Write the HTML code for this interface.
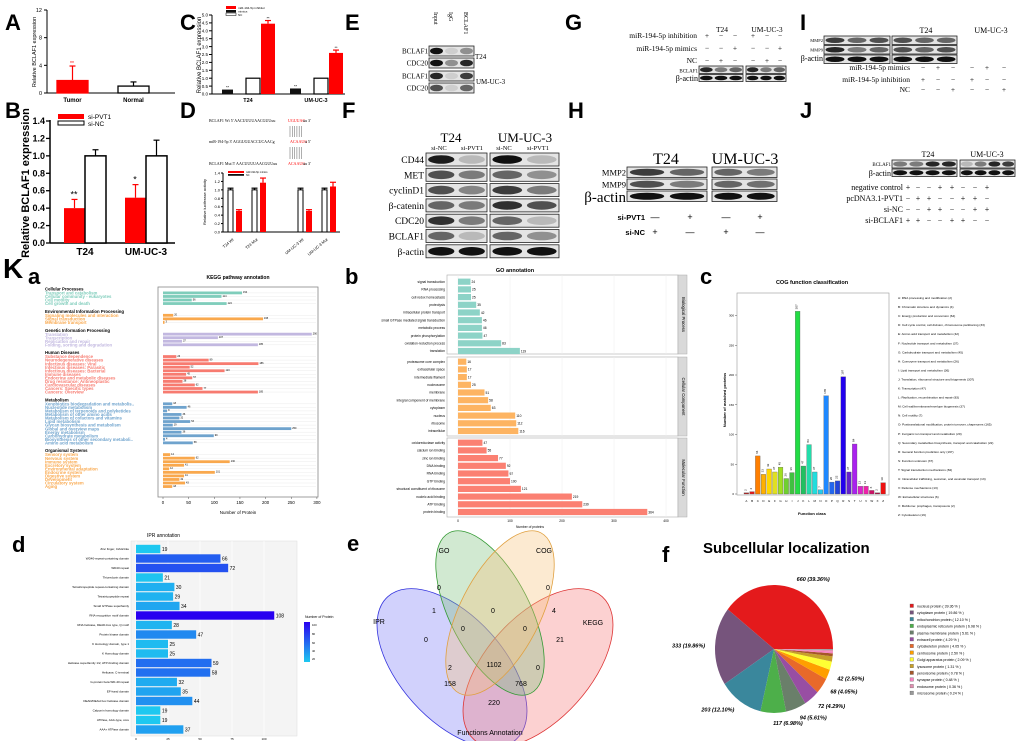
<!DOCTYPE html>
<html><head><meta charset="utf-8"><title>Figure</title>
<style>
html,body{margin:0;padding:0;background:#fff;width:1020px;height:741px;overflow:hidden}
svg{display:block}
text{font-family:"Liberation Sans",Arial,sans-serif}
.sf{font-family:"Liberation Serif","Times New Roman",serif}
</style></head>
<body>
<svg id="fig" width="1020" height="741" viewBox="0 0 1020 741" xmlns="http://www.w3.org/2000/svg"></svg>
<script>
// ---------- DATA ----------
const catsA=['Tumor','Normal'];
const valsA=[1.8,1.0];
const errA=[3.9,1.6];
const ticksA=[0,4,8,12];

const catsB=['T24','UM-UC-3'];
const pvtB=[0.40,0.52];
const pvtErrB=[0.50,0.67];
const ncB=[1.0,1.0];
const ncErrB=[1.07,1.18];
const ticksB=[0,0.2,0.4,0.6,0.8,1.0,1.2,1.4];

const catsC=['T24','UM-UC-3'];
const inhC=[0.28,0.35];
const ncC=[1.0,1.0];
const mimC=[4.45,2.6];
const mimErrC=[4.65,2.78];
const ticksC=[0,0.5,1.0,1.5,2.0,2.5,3.0,3.5,4.0,4.5,5.0];

const catsD=['T24 Wt','T24 Mut','UM-UC-3 Wt','UM-UC-3 Mut'];
const ncD=[1.0,1.0,1.0,1.0];
const mimD=[0.5,1.17,0.5,1.08];
const mimErrD=[0.53,1.28,0.53,1.18];
const ticksD=[0,0.2,0.4,0.6,0.8,1.0,1.2,1.4];

const keggGroups=['Cellular Processes','Environmental Information Processing','Genetic Information Processing','Human Diseases','Metabolism','Organismal Systems'];
const keggNames=[
['Transport and catabolism','Cellular community - eukaryotes','Cell motility','Cell growth and death'],
['Signaling molecules and interaction','Signal transduction','Membrane transport'],
['Translation','Transcription','Replication and repair','Folding, sorting and degradation'],
['Substance dependence','Neurodegenerative diseases','Infectious diseases: Viral','Infectious diseases: Parasitic','Infectious diseases: Bacterial','Immune diseases','Endocrine and metabolic diseases','Drug resistance: Antineoplastic','Cardiovascular diseases','Cancers: Specific types','Cancers: Overview'],
['Xenobiotics biodegradation and metabolis..','Nucleotide metabolism','Metabolism of terpenoids and polyketides','Metabolism of other amino acids','Metabolism of cofactors and vitamins','Lipid metabolism','Glycan biosynthesis and metabolism','Global and overview maps','Energy metabolism','Carbohydrate metabolism','Biosynthesis of other secondary metaboli..','Amino acid metabolism'],
['Sensory system','Nervous system','Immune system','Excretory system','Environmental adaptation','Endocrine system','Digestive system','Development','Circulatory system','Aging']];
const keggVals=[
[154,114,56,124],
[20,195,3],
[290,107,37,185],
[26,89,186,52,120,45,57,38,62,77,185],
[18,46,8,36,32,53,19,250,36,99,4,58],
[14,62,130,41,12,101,41,32,43,18]];
const keggTicks=[0,50,100,150,200,250,300];

const goPanels=['Biological Process','Cellular Component','Molecular Function'];
const goNames=[
['signal transduction','RNA processing','cell redox homeostasis','proteolysis','intracellular protein transport','small GTPase mediated signal transduction','metabolic process','protein phosphorylation','oxidation-reduction process','translation'],
['proteasome core complex','extracellular space','intermediate filament','nucleosome','membrane','integral component of membrane','cytoplasm','nucleus','ribosome','intracellular'],
['oxidoreductase activity','calcium ion binding','zinc ion binding','DNA binding','RNA binding','GTP binding','structural constituent of ribosome','nucleic acid binding','ATP binding','protein binding']];
const goVals=[
[24,25,25,35,42,46,46,47,83,119],
[16,17,17,25,51,58,63,110,112,116],
[47,55,77,92,97,100,121,219,239,364]];
const goTicks=[0,100,200,300,400];

const cogCats=['A','B','C','D','E','F','G','H','I','J','K','L','M','N','O','P','Q','R','S','T','U','V','W','X','Z'];
const cogVals=[2,4,64,33,42,37,45,26,36,307,47,83,37,7,165,20,22,197,37,84,13,13,6,2,19];
const cogDesc=['RNA processing and modification','Chromatin structure and dynamics','Energy production and conversion','Cell cycle control, cell division, chromosome partitioning','Amino acid transport and metabolism','Nucleotide transport and metabolism','Carbohydrate transport and metabolism','Coenzyme transport and metabolism','Lipid transport and metabolism','Translation, ribosomal structure and biogenesis','Transcription','Replication, recombination and repair','Cell wall/membrane/envelope biogenesis','Cell motility','Posttranslational modification, protein turnover, chaperones','Inorganic ion transport and metabolism','Secondary metabolites biosynthesis, transport and catabolism','General function prediction only','Function unknown','Signal transduction mechanisms','Intracellular trafficking, secretion, and vesicular transport','Defense mechanisms','Extracellular structures','Mobilome: prophages, transposons','Cytoskeleton'];
const cogTicks=[0,50,100,150,200,250,300];

const iprNames=['Zinc finger, C2H2-like','WD40-repeat-containing domain','WD40 repeat','Thioredoxin domain','Tetratricopeptide repeat-containing domain','Tetratricopeptide repeat','Small GTPase superfamily','RNA recognition motif domain','RNA helicase, DEAD-box type, Q motif','Protein kinase domain','K Homology domain, type 1','K Homology domain','Helicase superfamily 1/2, ATP-binding domain','Helicase, C-terminal','G-protein beta WD-40 repeat','EF-hand domain','DEAD/DEAH box helicase domain','Calponin homology domain','ATPase, AAA-type, core','AAA+ ATPase domain'];
const iprVals=[19,66,72,21,30,29,34,108,28,47,25,25,59,58,32,35,44,19,19,37];
const iprTicks=[0,25,50,75,100];

const vennSets=['GO','COG','IPR','KEGG'];
const vennCounts=[0,0,0,1,4,0,0,0,21,2,1102,0,158,768,220];

const pieNames=['nucleus protein','cytoplasm protein','mitochondrion protein','endoplasmic reticulum protein','plasma membrane protein','extracell protein','cytoskeleton protein','centrosome protein','Golgi apparatus protein','lysosome protein','peroxisome protein','synapse protein','endosome protein','microsome protein'];
const pieVals=[660,333,203,117,94,72,68,42,35,22,13,8,6,4];

// ---------- HELPERS ----------
const NS='http://www.w3.org/2000/svg';
const svg=document.getElementById('fig');
function el(tag,name,attrs,parent){
  const e=document.createElementNS(NS,tag);
  for(const k in attrs) e.setAttribute(k,attrs[k]);
  
  
  (parent||svg).appendChild(e);
  return e;
}
function tx(x,y,s,size,name,o){
  o=o||{};
  const a={x:x,y:y,'font-size':size,fill:o.fill||'#000'};
  if(o.anchor)a['text-anchor']=o.anchor;
  if(o.bold)a['font-weight']='bold';
  if(o.italic)a['font-style']='italic';
  if(o.cls)a['class']=o.cls;
  if(o.rot!==undefined)a.transform='rotate('+o.rot+' '+x+' '+y+')';
  const t=el('text',name,a);
  t.textContent=s;
  return t;
}
function ln(x1,y1,x2,y2,name,c,w){return el('line',name,{x1:x1,y1:y1,x2:x2,y2:y2,stroke:c||'#000','stroke-width':w||1});}
function rc(x,y,w,h,name,fill,stroke,sw){return el('rect',name,{x:x,y:y,width:w,height:h,fill:fill,stroke:stroke||'none','stroke-width':sw||1});}
function letter(x,y,s,size){tx(x,y,s,size,'panel-label-'+s.toLowerCase(),{bold:true});}
function errBar(x,y1,y2,name,c){ln(x,y1,x,y2,name,c||'#000',1.2);ln(x-3,y2,x+3,y2,name+'-cap',c||'#000',1.2);}
function blot(x,y,w,h,lanes,name){
  rc(x,y,w,h,name+'-bg','#e4e4e4','#222',0.8);
  const g=el('g',name,{});
  const lw=w/lanes.length;
  lanes.forEach((v,i)=>{
    el('ellipse',name+'-band',{cx:x+lw*(i+0.5),cy:y+h/2,rx:lw*0.43,ry:h*0.33,fill:'#111','fill-opacity':v},g);
  });
}

// ---------- PANEL LETTERS ----------
letter(5,30,'A',22);letter(5,118,'B',22);letter(180,30,'C',22);letter(180,118,'D',22);
letter(345,30,'E',22);letter(342,118,'F',22);letter(565,30,'G',22);letter(568,118,'H',22);
letter(800,30,'I',22);letter(800,118,'J',22);
tx(3,278,'K',28,'panel-label-k',{bold:true});tx(28,284,'a',22,'panel-label-ka',{bold:true});
letter(345,284,'b',22);letter(700,284,'c',22);letter(12,552,'d',22);letter(347,551,'e',22);letter(662,562,'f',22);

// ---------- PANEL A ----------
(function(){
  const y=v=>93-v/12*83;
  ln(47,10,47,93,'a-y-axis');ln(47,93,175,93,'a-x-axis');
  ticksA.forEach(t=>{ln(44,y(t),47,y(t),'a-tick');tx(42,y(t)+2,String(t),5.5,'a-tick-label',{anchor:'end'});});
  tx(36,52,'Relative BCLAF1 expression',5.5,'a-y-axis-title',{anchor:'middle',rot:-90});
  catsA.forEach((c,i)=>{
    const x=57+i*61;
    errBar(x+15.5,y(valsA[i]),y(errA[i]),'a-error-bar',i==0?'#f00':'#000');
    rc(x,y(valsA[i]),31,93-y(valsA[i]),'a-bar-'+c.toLowerCase(),i==0?'#f00':'#fff',i==0?'#f00':'#000',1.3);
    tx(x+15.5,102,c,6,'a-x-label',{anchor:'middle',bold:true});
  });
  tx(72,y(errA[0])-1,'**',5,'a-sig',{anchor:'middle',fill:'#f00'});
})();

// ---------- PANEL B ----------
(function(){
  const y=v=>243-v/1.4*122;
  ln(50,120,50,243,'b-y-axis',0,1.5);ln(50,243,175,243,'b-x-axis',0,1.5);
  ticksB.forEach(t=>{ln(46,y(t),50,y(t),'b-tick',0,1.3);tx(45,y(t)+3,t.toFixed(1),9,'b-tick-label',{anchor:'end',bold:true});});
  tx(29,183,'Relative BCLAF1 expression',11,'b-y-axis-title',{anchor:'middle',rot:-90,bold:true});
  catsB.forEach((c,i)=>{
    const x=64+i*61;
    errBar(x+10.5,y(pvtB[i]),y(pvtErrB[i]),'b-error-bar','#f00');
    rc(x,y(pvtB[i]),21,243-y(pvtB[i]),'b-bar-si-pvt1',"#f00");
    errBar(x+31.5,y(ncB[i]),y(ncErrB[i]),'b-error-bar');
    rc(x+21,y(ncB[i]),21,243-y(ncB[i]),'b-bar-si-nc','#fff','#000',1.5);
    tx(x+21,255,c,10,'b-x-label',{anchor:'middle',bold:true});
  });
  tx(74,y(pvtErrB[0])-2,'**',9,'b-sig',{anchor:'middle'});tx(135,y(pvtErrB[1])-2,'*',9,'b-sig',{anchor:'middle'});
  rc(58,114,26,5,'b-legend-swatch-pvt1','#f00');rc(58,121,26,4,'b-legend-swatch-nc','#fff','#000');
  tx(88,119,'si-PVT1',6.5,'b-legend-pvt1');tx(88,126,'si-NC',6.5,'b-legend-nc');
})();

// ---------- PANEL C ----------
(function(){
  const y=v=>94-v/5*79;
  ln(212,15,212,94,'c-y-axis');ln(212,94,345,94,'c-x-axis');
  ticksC.forEach(t=>{ln(209,y(t),212,y(t),'c-tick');tx(208,y(t)+1.7,t.toFixed(1),4.5,'c-tick-label',{anchor:'end'});});
  tx(201,55,'Relative BCLAF1 expression',6,'c-y-axis-title',{anchor:'middle',rot:-90});
  catsC.forEach((c,i)=>{
    const x=222+i*68;
    rc(x,y(inhC[i]),11,94-y(inhC[i]),'c-bar-inhibitor','#111');
    rc(x+24,y(ncC[i]),14,94-y(ncC[i]),'c-bar-nc','#fff','#000',1.2);
    errBar(x+46,y(mimC[i]),y(mimErrC[i]),'c-error-bar','#f00');
    rc(x+39,y(mimC[i]),14,94-y(mimC[i]),'c-bar-mimics','#f00');
    tx(x+5.5,y(inhC[i])-1,'**',4,'c-sig',{anchor:'middle'});
    tx(x+46,y(mimErrC[i])-1,'**',4,'c-sig',{anchor:'middle'});
    tx(x+26,102,c,5.5,'c-x-label',{anchor:'middle',bold:true});
  });
  rc(226,6,10,3,'c-legend-swatch','#f00');rc(226,10,10,2.5,'c-legend-swatch','#111');rc(226,13,10,2.5,'c-legend-swatch','#fff','#000',0.5);
  tx(238,9,'miR-194-5p inhibitor',3,'c-legend-text');tx(238,12.5,'mimics',3,'c-legend-text');tx(238,16,'NC',3,'c-legend-text');
})();

// ---------- PANEL D ----------
(function(){
  tx(209,122,"BCLAF1 Wt      5' AACUUUUAACGUUuu",4,'d-seq-wt',{cls:'sf'});tx(288,122,"UGUUAC",4,'d-seq-wt-site',{cls:'sf',fill:'#f00'});tx(303,122,"uu 3'",4,'d-seq-wt-end',{cls:'sf'});
  tx(209,143,"miR-194-5p       3' AGGUGUACCUCAACg",4,'d-seq-mir',{cls:'sf'});tx(290,143,"ACAAUG",4,'d-seq-mir-site',{cls:'sf',fill:'#f00'});tx(305,143,"u    5'",4,'d-seq-mir-end',{cls:'sf'});
  tx(209,165,"BCLAF1 Mut      5' AACUUUUAACGUUuu",4,'d-seq-mut',{cls:'sf'});tx(288,165,"ACAAUG",4,'d-seq-mut-site',{cls:'sf',fill:'#f00'});tx(303,165,"uu 3'",4,'d-seq-mut-end',{cls:'sf'});
  for(let k=0;k<6;k++){ln(290+k*2.3,126,290+k*2.3,137,'d-pair-line','#777',0.6);ln(290+k*2.3,147,290+k*2.3,159,'d-pair-line','#777',0.6);}
  const y=v=>232-v/1.4*59;
  ln(223,173,223,232,'d-y-axis');ln(223,232,340,232,'d-x-axis');
  ticksD.forEach(t=>{ln(221,y(t),223,y(t),'d-tick');tx(220,y(t)+1.5,t.toFixed(1),4,'d-tick-label',{anchor:'end'});});
  tx(206,202,'Relative luciferase activity',4,'d-y-axis-title',{anchor:'middle',rot:-90});
  catsD.forEach((c,i)=>{
    const x=228+i*24+(i>=2?22:0);
    errBar(x+2.5,y(ncD[i]),y(ncD[i]+0.04),'d-error-bar');
    rc(x,y(ncD[i]),5,232-y(ncD[i]),'d-bar-nc','#fff','#000',1);
    errBar(x+11,y(mimD[i]),y(mimErrD[i]),'d-error-bar','#f00');
    rc(x+8,y(mimD[i]),6,232-y(mimD[i]),'d-bar-mimics','#f00');
    tx(x+6,240,c,4,'d-x-label',{anchor:'end',rot:-40});
  });
  rc(228,171,16,2,'d-legend-swatch','#f00');rc(228,174,16,1.8,'d-legend-swatch','#111');
  tx(246,173,'miR-194-5p mimics',2.5,'d-legend-text');tx(246,176,'NC',2.5,'d-legend-text');
})();

// ---------- PANEL E ----------
(function(){
  ['Input','IgG','BCLAF1'].forEach((s,i)=>tx(434+i*15,12,s,6,'e-column-label',{cls:'sf',rot:90}));
  const rows=['BCLAF1','CDC20','BCLAF1','CDC20'];const ys=[46,58,71,83];
  const ints=[[1,0.1,0.4],[1,0.4,0.9],[0.9,0.1,0.8],[0.7,0.1,0.6]];
  rows.forEach((r,i)=>{tx(428,ys[i]+7.5,r,7,'e-row-label',{cls:'sf',anchor:'end'});blot(429,ys[i],45,10,ints[i],'e-blot');});
  tx(475,59,'T24',7,'e-cell-t24',{cls:'sf'});tx(476,84,'UM-UC-3',7,'e-cell-umuc3',{cls:'sf'});
})();

// ---------- PANEL F ----------
(function(){
  tx(451,142,'T24',13,'f-header-t24',{cls:'sf',anchor:'middle'});tx(525,142,'UM-UC-3',13,'f-header-umuc3',{cls:'sf',anchor:'middle'});
  [['si-NC',439],['si-PVT1',472],['si-NC',504],['si-PVT1',538]].forEach(a=>tx(a[1],150,a[0],6.5,'f-condition-label',{cls:'sf',anchor:'middle'}));
  const rows=['CD44','MET','cyclinD1','β-catenin','CDC20','BCLAF1','β-actin'];
  const ints=[[[0.95,0.2],[1,0.2]],[[0.7,0.5],[0.6,0.4]],[[0.7,0.45],[0.8,0.5]],[[0.6,0.5],[0.85,0.7]],[[0.85,0.5],[0.6,0.2]],[[0.6,0.2],[0.6,0.4]],[[1,1],[1,1]]];
  rows.forEach((r,i)=>{const yy=153+i*15.3;tx(424,yy+10,r,9.5,'f-row-label',{cls:'sf',anchor:'end'});
    blot(426,yy,61,13,ints[i][0],'f-blot-t24');blot(490,yy,69,13,ints[i][1],'f-blot-umuc3');});
})();

// ---------- PANEL G ----------
(function(){
  tx(697,38,'miR-194-5p inhibition',7.5,'g-row-label',{cls:'sf',anchor:'end'});
  tx(697,51,'miR-194-5p      mimics',7.5,'g-row-label',{cls:'sf',anchor:'end'});
  tx(697,63,'NC',7.5,'g-row-label',{cls:'sf',anchor:'end'});
  tx(722,32,'T24',7.5,'g-header-t24',{cls:'sf',anchor:'middle'});tx(767,32,'UM-UC-3',7.5,'g-header-umuc3',{cls:'sf',anchor:'middle'});
  const cols=[707,721,735,753,767,780];
  const signs=[['+','−','−','+','−','−'],['−','−','+','−','−','+'],['−','+','−','−','+','−']];
  signs.forEach((r,j)=>r.forEach((s,i)=>tx(cols[i],38+j*12.5,s,7.5,'g-sign',{cls:'sf',anchor:'middle'})));
  tx(698,72.5,'BCLAF1',5,'g-row-bclaf1',{cls:'sf',anchor:'end'});tx(698,81,'β-actin',8,'g-row-actin',{cls:'sf',anchor:'end'});
  blot(699,66,44,7.5,[0.9,0.5,0.6],'g-blot');blot(746,66,40,7.5,[0.9,0.5,0.6],'g-blot');
  blot(699,74.5,44,7,[1,1,1],'g-blot');blot(746,74.5,40,7,[1,1,1],'g-blot');
})();

// ---------- PANEL H ----------
(function(){
  tx(666,164,'T24',16,'h-header-t24',{cls:'sf',anchor:'middle'});tx(745,164,'UM-UC-3',16,'h-header-umuc3',{cls:'sf',anchor:'middle'});
  const rows=['MMP2','MMP9','β-actin'];const sz=[8.5,8.5,15];
  const ints=[[[0.8,0.6],[0.6,0.5]],[[0.7,0.5],[0.6,0.55]],[[1,1],[1,1]]];
  rows.forEach((r,i)=>{const yy=167+i*12;tx(626,yy+(i==2?11:8.5),r,sz[i],'h-row-label',{cls:'sf',anchor:'end'});
    blot(627,yy,80,10.5,ints[i][0],'h-blot');blot(712,yy,65,10.5,ints[i][1],'h-blot');});
  tx(645,220,'si-PVT1',7.5,'h-row-si-pvt1',{anchor:'end',bold:true});tx(645,235,'si-NC',7.5,'h-row-si-nc',{anchor:'end',bold:true});
  const cols=[655,690,726,760];
  [['—','+','—','+'],['+','—','+','—']].forEach((r,j)=>r.forEach((s,i)=>tx(cols[i],220+j*15,s,9,'h-sign',{anchor:'middle'})));
})();

// ---------- PANEL I ----------
(function(){
  tx(926,33,'T24',8,'i-header-t24',{cls:'sf',anchor:'middle'});tx(991,33,'UM-UC-3',8,'i-header-umuc3',{cls:'sf',anchor:'middle'});
  const rows=['MMP2','MMP9','β-actin'];const sz=[4.5,4.5,8];
  const ints=[[[0.8,0.6,0.7],[0.7,0.6,0.6]],[[0.9,0.5,0.6],[0.7,0.6,0.7]],[[1,1,1],[1,1,1]]];
  rows.forEach((r,i)=>{const yy=36+i*9.5;tx(823,yy+6,r,sz[i],'i-row-label',{cls:'sf',anchor:'end'});
    blot(824,yy,66,8.5,ints[i][0],'i-blot');blot(892,yy,65,8.5,ints[i][1],'i-blot');});
  tx(910,70,'miR-194-5p     mimics',7.5,'i-row-label',{cls:'sf',anchor:'end'});
  tx(910,82,'miR-194-5p inhibition',7.5,'i-row-label',{cls:'sf',anchor:'end'});
  tx(910,92,'NC',7.5,'i-row-label',{cls:'sf',anchor:'end'});
  const cols=[923,938,953,972,987,1004];
  [['−','+','−','−','+','−'],['+','−','−','+','−','−'],['−','−','+','−','−','+']].forEach((r,j)=>r.forEach((s,i)=>tx(cols[i],[70,82,92][j],s,7.5,'i-sign',{cls:'sf',anchor:'middle'})));
})();

// ---------- PANEL J ----------
(function(){
  tx(928,157,'T24',8,'j-header-t24',{cls:'sf',anchor:'middle'});tx(987,157,'UM-UC-3',8,'j-header-umuc3',{cls:'sf',anchor:'middle'});
  tx(891,166,'BCLAF1',5,'j-row-bclaf1',{cls:'sf',anchor:'end'});tx(891,176,'β-actin',8,'j-row-actin',{cls:'sf',anchor:'end'});
  blot(892,160,65,8,[0.5,0.5,0.9,0.9],'j-blot');blot(960,160,55,8,[0.2,0.5,0.9,0.8],'j-blot');
  blot(892,169,65,7.5,[1,1,1,1],'j-blot');blot(960,169,55,7.5,[1,1,1,1],'j-blot');
  const labels=['negative control','pcDNA3.1-PVT1','si-NC','si-BCLAF1'];
  const signs=[['+','−','−','+','+','−','−','+'],['−','+','+','−','−','+','+','−'],['−','−','+','+','−','−','+','+'],['+','+','−','−','+','+','−','−']];
  const cols=[908,918,929,940,952,963,975,987];
  labels.forEach((l,j)=>{const yy=190+j*11;tx(903,yy,l,8,'j-row-label',{cls:'sf',anchor:'end'});
    signs[j].forEach((s,i)=>tx(cols[i],yy,s,8,'j-sign',{cls:'sf',anchor:'middle'}));});
})();

// ---------- KEGG ----------
(function(){
  const colors=['#7fcdbb','#f9a84d','#c2b8e0','#f77b70','#6fa3cd','#f9a84d'];
  const x=v=>163+v*0.513;
  tx(238,279,'KEGG pathway annotation',5,'kegg-title',{anchor:'middle',bold:true});
  rc(158,287,160,210,'kegg-frame','#fff','#888',0.8);
  let y=289;
  keggGroups.forEach((g,gi)=>{
    tx(45,y+1.5,g,4.3,'kegg-group-label',{bold:true});
    y+=3.9;
    keggVals[gi].forEach((v,i)=>{
      tx(45,y+1.6,keggNames[gi][i],4.3,'kegg-category-label',{fill:colors[gi],bold:true});
      ln(163,y,316,y,'kegg-gridline','#e6e6e6',0.4);
      rc(163,y-1.4,x(v)-163,2.8,'kegg-bar',colors[gi]);
      tx(x(v)+1,y+0.3,String(v),2.5,'kegg-value');
      y+=3.55;
    });
    y+=4.3;
  });
  keggTicks.forEach(t=>{ln(x(t),497,x(t),499,'kegg-tick','#555',0.5);tx(x(t),504,String(t),4.3,'kegg-tick-label',{anchor:'middle'});});
  tx(238,514,'Number of Protein',4.5,'kegg-x-axis-title',{anchor:'middle'});
})();

// ---------- GO ----------
(function(){
  const colors=['#8dd3c7','#fdb462','#fb8072'];
  const x=v=>458+v*0.52;
  const tops=[275,357,438];const bots=[354,436,517];const first=[281.7,361.7,442.7];
  tx(515,272,'GO annotation',5.5,'go-title',{anchor:'middle',bold:true});
  goPanels.forEach((p,pi)=>{
    rc(447,tops[pi],231,bots[pi]-tops[pi],'go-panel-bg','#fff','#aaa',0.6);
    goTicks.forEach(t=>ln(x(t),tops[pi],x(t),bots[pi],'go-gridline','#eee',0.5));
    rc(678,tops[pi],9,bots[pi]-tops[pi],'go-facet-strip','#d9d9d9','#aaa',0.5);
    tx(682,(tops[pi]+bots[pi])/2,p,4.3,'go-facet-label',{anchor:'middle',rot:90});
    goVals[pi].forEach((v,i)=>{
      const yy=first[pi]+i*7.7;
      rc(458,yy-3.1,x(v)-458,6.2,'go-bar',colors[pi]);
      tx(x(v)+1,yy+1.3,String(v),3.3,'go-value');
      tx(445,yy+1.2,goNames[pi][i],3.3,'go-category-label',{anchor:'end'});
    });
  });
  goTicks.forEach(t=>tx(x(t),522,String(t),3.3,'go-tick-label',{anchor:'middle'}));
  tx(530,528,'Number of proteins',3.3,'go-x-axis-title',{anchor:'middle'});
})();

// ---------- COG ----------
(function(){
  const colors=['#b22222','#e31a1c','#ff7f00','#ffb000','#ffd700','#e0e020','#a0e020','#70d030','#40c040','#22dd44','#22c060','#22ddaa','#22dddd','#22ccee','#1e88ff','#2266ee','#2244dd','#2200ee','#6622cc','#aa22ee','#dd22cc','#ee22aa','#cc1166','#aa1144','#ee1111'];
  const y=v=>494-v*0.595;
  const x=i=>744+i*5.7;
  tx(812,284,'COG function classification',5.5,'cog-title',{anchor:'middle',bold:true});
  rc(737,293,152,202,'cog-frame','#fff','#999',0.6);
  cogTicks.forEach(t=>{ln(735,y(t),737,y(t),'cog-tick','#555',0.5);tx(734,y(t)+1,String(t),3,'cog-tick-label',{anchor:'end'});});
  tx(726,400,'Number of matched proteins',4,'cog-y-axis-title',{anchor:'middle',rot:-90,bold:true});
  cogCats.forEach((c,i)=>{
    const v=cogVals[i];
    rc(x(i),y(v),4.7,494-y(v),'cog-bar-'+c.toLowerCase(),colors[i],'#555',0.3);
    tx(x(i)+2.4,y(v)-2,String(v),3,'cog-value',{anchor:'start',rot:-90});
    tx(x(i)+2.4,502,c,3,'cog-x-label',{anchor:'middle'});
    tx(898,299+i*9.05,c+': '+cogDesc[i]+'  ('+v+')',3.1,'cog-legend-entry');
  });
  tx(812,515,'Function class',4,'cog-x-axis-title',{anchor:'middle',bold:true});
})();

// ---------- IPR ----------
(function(){
  const x=v=>136+v*1.28;
  function col(v){const t=Math.min(1,Math.max(0,(v-19)/(108-19)));
    const r=Math.round(30+t*(40-30)),g=Math.round(200-t*200),b=240;return 'rgb('+r+','+g+','+b+')';}
  tx(147,537,'IPR annotation',5,'ipr-title');
  rc(131,541,166,195,'ipr-panel-bg','#f4f4f4','#ddd',0.5);
  iprTicks.forEach(t=>ln(x(t),541,x(t),736,'ipr-gridline','#fff',0.6));
  iprNames.forEach((n,i)=>{
    const yy=549+i*9.5;const v=iprVals[i];
    rc(136,yy-4.2,x(v)-136,8.4,'ipr-bar',col(v));
    tx(x(v)+1.5,yy+1.8,String(v),5,'ipr-value');
    tx(129,yy+1,n,3,'ipr-category-label',{anchor:'end'});
  });
  iprTicks.forEach(t=>tx(x(t),740,String(t),3,'ipr-tick-label',{anchor:'middle'}));
  const defs=el('defs','ipr-defs',{});
  const lg=el('linearGradient','ipr-gradient',{id:'iprg',x1:0,y1:1,x2:0,y2:0},defs);
  el('stop','ipr-grad-stop',{offset:0,'stop-color':'#1ec8f0'},lg);el('stop','ipr-grad-stop',{offset:1,'stop-color':'#2800f0'},lg);
  rc(304,622,6,40,'ipr-colorbar','url(#iprg)');
  tx(305,618,'Number of Protein',3.5,'ipr-colorbar-title');
  [[100,626],[80,635],[60,644],[40,652],[20,660]].forEach(a=>tx(312,a[1],String(a[0]),2.8,'ipr-colorbar-label'));
})();

// ---------- VENN ----------
(function(){
  el('ellipse','venn-ipr',{cx:452,cy:668,rx:52,ry:96,transform:'rotate(-42 452 668)',fill:'#7b7bf5','fill-opacity':0.35,stroke:'#3333dd','stroke-width':0.8});
  el('ellipse','venn-kegg',{cx:538,cy:668,rx:52,ry:96,transform:'rotate(42 538 668)',fill:'#f77b7b','fill-opacity':0.35,stroke:'#dd3333','stroke-width':0.8});
  el('ellipse','venn-go',{cx:490,cy:613,rx:40,ry:90,transform:'rotate(-27 490 613)',fill:'#7bc07b','fill-opacity':0.35,stroke:'#339933','stroke-width':0.8});
  el('ellipse','venn-cog',{cx:500,cy:613,rx:40,ry:90,transform:'rotate(27 500 613)',fill:'#f5c27b','fill-opacity':0.35,stroke:'#e0a040','stroke-width':0.8});
  const lpos=[[444,553],[544,553],[379,624],[593,625]];
  vennSets.forEach((s,i)=>tx(lpos[i][0],lpos[i][1],s,7,'venn-set-label',{anchor:'middle'}));
  const cpos=[[439,590],[548,590],[493,613],[434,613],[554,613],[463,631],[525,631],[426,642],[560,642],[450,670],[494,667],[538,670],[450,686],[521,686],[494,705]];
  vennCounts.forEach((c,i)=>tx(cpos[i][0],cpos[i][1],String(c),7,'venn-count',{anchor:'middle'}));
  tx(490,735,'Functions Annotation',7,'venn-title',{anchor:'middle'});
})();

// ---------- PIE ----------
(function(){
  const colors=['#e41a1c','#76547c','#3a879c','#4daf4a','#6a7f6a','#984ea3','#e8692a','#ff9f00','#ffff33','#c8a02a','#a65628','#f781bf','#e090b0','#999999'];
  const cx=774,cy=649,rx=59,ry=64;
  const total=pieVals.reduce((a,b)=>a+b,0);
  tx(703,553,'Subcellular localization',15,'pie-title',{bold:true});
  let a=0;
  pieVals.forEach((v,i)=>{
    const da=v/total*2*Math.PI;
    const a1=a,a2=a-da;
    const p1=[cx+rx*Math.cos(a1),cy+ry*Math.sin(a1)],p2=[cx+rx*Math.cos(a2),cy+ry*Math.sin(a2)];
    el('path','pie-slice-'+i,{d:'M'+cx+','+cy+'L'+p1[0]+','+p1[1]+'A'+rx+','+ry+' 0 '+(da>Math.PI?1:0)+' 0 '+p2[0]+','+p2[1]+'Z',fill:colors[i]});
    if(i<8){
      const m=(a1+a2)/2;const lx=cx+(rx+10)*Math.cos(m),ly=cy+(ry+10)*Math.sin(m);
      tx(lx,ly+2,v+' ('+(v/total*100).toFixed(2)+'%)',5.5,'pie-value-label',{bold:true,italic:true,anchor:Math.cos(m)<-0.2?'end':'start'});
    }
    rc(910,604+i*6.7,3.5,3.5,'pie-legend-swatch',colors[i],'#555',0.3);
    tx(917,607.5+i*6.7,pieNames[i]+'  ( '+(v/total*100).toFixed(2)+' % )',3.6,'pie-legend-entry');
    a=a2;
  });
})();
</script>
</body></html>
